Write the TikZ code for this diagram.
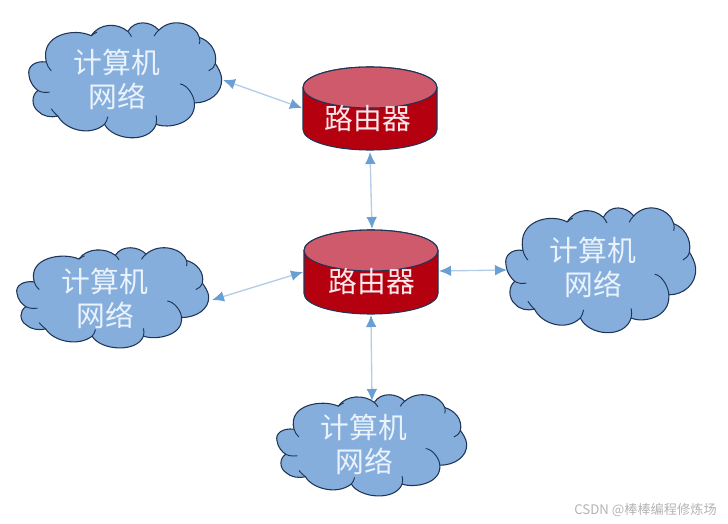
\documentclass[tikz,border=0pt]{standalone}
\usepackage{fontspec}
\newfontfamily\cjk{Noto Sans CJK SC}
\definecolor{cloudblue}{HTML}{85AEDD}
\definecolor{outline}{HTML}{1F3556}
\definecolor{diskred}{HTML}{B5000F}
\definecolor{disktop}{HTML}{CF5A6C}
\definecolor{linkline}{HTML}{B4CDE9}
\definecolor{linkhead}{HTML}{6A9FD3}
\definecolor{marktext}{HTML}{B4B4B4}
\definecolor{labelpink}{HTML}{FBE6EA}
\definecolor{labelblue}{HTML}{EAF2FB}
\usetikzlibrary{arrows.meta}
\tikzset{
  x=0.75pt,y=-0.75pt,
  cloudshape/.style={draw=outline,line width=0.8pt,fill=cloudblue,line join=round},
  cloudcrease/.style={draw=outline,line width=0.7pt},
  disk/.style={draw=outline,line width=0.8pt},
  cloudtext/.style={font=\cjk\fontsize{21.6}{25.5}\selectfont,text=labelblue,align=center,inner sep=0pt},
  disktext/.style={font=\cjk\fontsize{21.6}{26}\selectfont,text=labelpink,inner sep=0pt},
  link/.style={draw=linkline,line width=1pt,{Latex[length=9pt,width=8pt,color=linkhead]}-{Latex[length=9pt,width=8pt,color=linkhead]},shorten <=0pt,shorten >=0pt},
  endpoint/.style={inner sep=0pt,minimum size=0pt}
}
% #1 left, #2 top, #3 width, #4 height
\newcommand{\cloudat}[4]{%
\begin{scope}[shift={(#1,#2)},x=#3*0.75pt/583,y=-#4*0.75pt/357,shift={(-55,-33)}]
\path[cloudshape]
 (110,155) .. controls (75,150) and (52,170) .. (58,195)
 .. controls (60,218) and (75,235) .. (85,242)
 .. controls (65,255) and (65,290) .. (85,305)
 .. controls (100,322) and (125,325) .. (145,320)
 .. controls (165,360) and (240,385) .. (285,345)
 .. controls (310,395) and (420,405) .. (440,345)
 .. controls (475,360) and (560,345) .. (555,280)
 .. controls (600,280) and (640,250) .. (637,205)
 .. controls (636,190) and (625,170) .. (618,160)
 .. controls (625,120) and (600,90) .. (570,80)
 .. controls (560,40) and (490,15) .. (448,58)
 .. controls (425,30) and (375,25) .. (355,62)
 .. controls (325,35) and (270,35) .. (245,75)
 .. controls (195,50) and (90,70) .. (110,155) -- cycle;
\path[cloudcrease] (110,155) .. controls (112,165) and (118,175) .. (125,182);
\path[cloudcrease] (85,242) .. controls (95,248) and (108,249) .. (120,247);
\path[cloudcrease] (145,320) .. controls (138,315) and (130,305) .. (125,298);
\path[cloudcrease] (285,345) .. controls (290,340) and (293,330) .. (295,322);
\path[cloudcrease] (440,345) .. controls (442,335) and (442,325) .. (440,318);
\path[cloudcrease] (555,280) .. controls (555,260) and (535,225) .. (512,222);
\path[cloudcrease] (618,160) .. controls (615,170) and (608,178) .. (598,182);
\path[cloudcrease] (570,80) .. controls (572,88) and (572,94) .. (570,100);
\path[cloudcrease] (448,58) .. controls (442,64) and (438,68) .. (434,76);
\path[cloudcrease] (355,62) .. controls (360,68) and (364,72) .. (366,78);
\path[cloudcrease] (245,75) .. controls (250,70) and (255,68) .. (262,64);
\end{scope}}
% #1 left, #2 top, #3 width, #4 total height, #5 top ellipse height
\newcommand{\diskat}[5]{%
\begin{scope}[shift={(#1,#2)}]
\path[disk,fill=diskred] (0,#5/2) -- (0,#4-#5/2)
  .. controls (0,#4-#5*0.22) and (#3*0.22,#4) .. (#3/2,#4)
  .. controls (#3*0.78,#4) and (#3,#4-#5*0.22) .. (#3,#4-#5/2)
  -- (#3,#5/2)
  .. controls (#3,#5*0.22) and (#3*0.78,0) .. (#3/2,0)
  .. controls (#3*0.22,0) and (0,#5*0.22) .. (0,#5/2) -- cycle;
\path[disk,fill=disktop] (0,#5/2)
  .. controls (0,#5*0.22) and (#3*0.22,0) .. (#3/2,0)
  .. controls (#3*0.78,0) and (#3,#5*0.22) .. (#3,#5/2)
  .. controls (#3,#5*0.78) and (#3*0.78,#5) .. (#3/2,#5)
  .. controls (#3*0.22,#5) and (0,#5*0.78) .. (0,#5/2) -- cycle;
\end{scope}}
\begin{document}
\begin{tikzpicture}
\useasboundingbox[fill=white] (0,0) rectangle (728,524);
\cloudat{28}{22}{194}{117}
\cloudat{16}{247}{193}{102}
\cloudat{505}{207}{191}{127}
\cloudat{276}{394}{191}{103}
\diskat{303}{67}{134}{83}{41}
\diskat{304}{230}{134}{84}{41}
\node[cloudtext] (netA) at (117,79) {计算机\\网络};
\node[cloudtext] (netB) at (105,298) {计算机\\网络};
\node[cloudtext] (netC) at (593,267) {计算机\\网络};
\node[cloudtext] (netD) at (364,444) {计算机\\网络};
\node[disktext] (routerA) at (368,119) {路由器};
\node[disktext] (routerB) at (372,282) {路由器};
\coordinate (a1) at (223,80);
\coordinate (a2) at (302,108);
\coordinate (b1) at (370,152);
\coordinate (b2) at (372,229);
\coordinate (c1) at (303,272);
\coordinate (c2) at (212,300);
\coordinate (d1) at (439,271);
\coordinate (d2) at (507,270);
\coordinate (e1) at (371,315);
\coordinate (e2) at (372,401);
\draw[link] (a1) -- (a2);
\draw[link] (b1) -- (b2);
\draw[link] (c1) -- (c2);
\draw[link] (d1) -- (d2);
\draw[link] (e1) -- (e2);
\node[font=\cjk\fontsize{9.9}{12}\selectfont,text=marktext,inner sep=0pt,anchor=east] (mark) at (717,510) {CSDN @棒棒编程修炼场};
\end{tikzpicture}
\end{document}
